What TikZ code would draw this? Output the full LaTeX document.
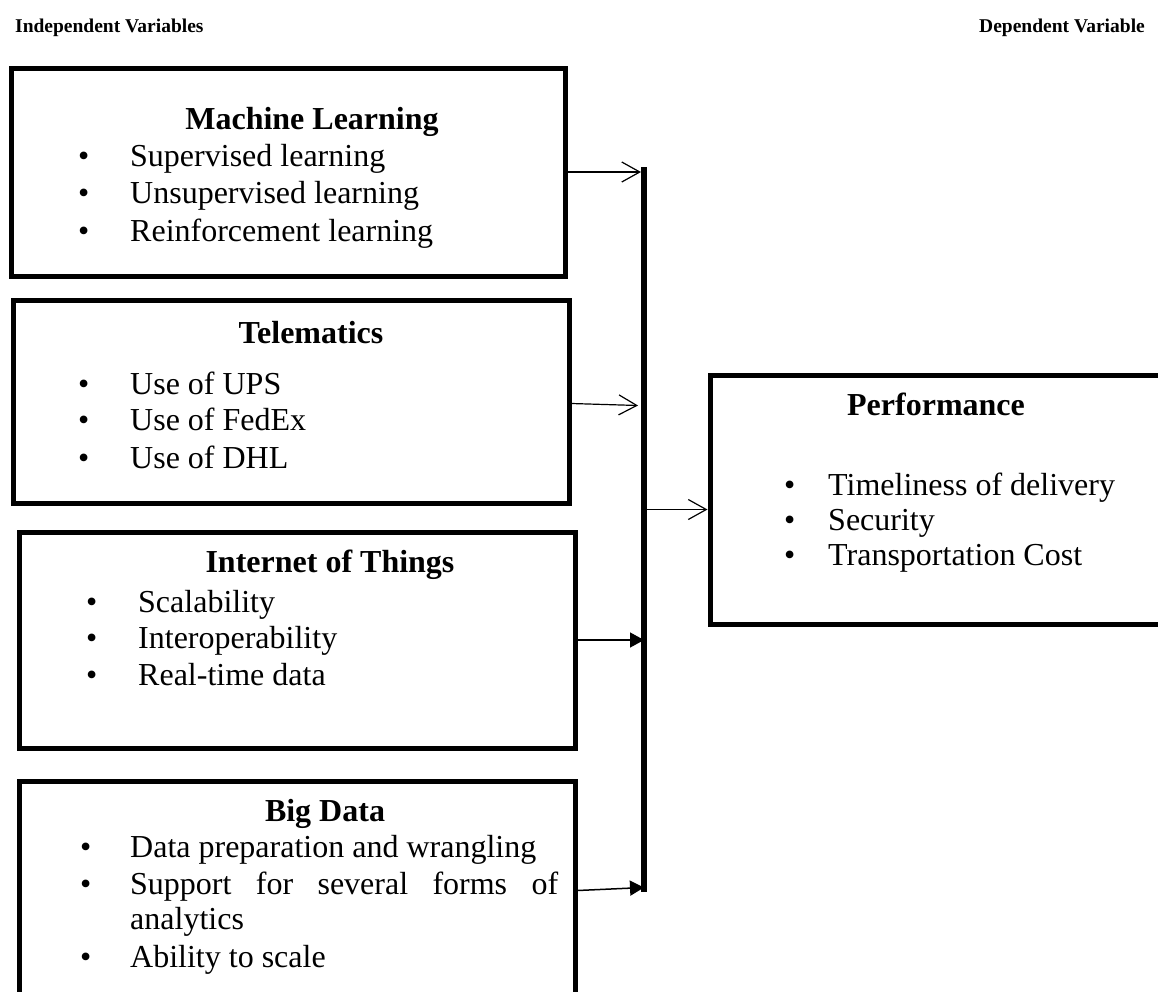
\documentclass[tikz,border=0pt]{standalone}
\usepackage{fontspec}
\setmainfont{Liberation Serif}
\usetikzlibrary{arrows.meta}
\begin{document}
\begin{tikzpicture}[x=1pt,y=-1pt,
  box/.style={draw, line width=5pt, inner sep=0pt},
  txt/.style={anchor=mid west, inner sep=0pt, font=\fontsize{32}{38}\selectfont},
  head/.style={anchor=mid, inner sep=0pt, font=\fontsize{32}{38}\selectfont\bfseries},
  bul/.style={anchor=mid west, inner sep=0pt, font=\fontsize{32}{38}\selectfont},
  toplabel/.style={inner sep=0pt, font=\fontsize{19.5}{24}\selectfont\bfseries},
  openarr/.style={line width=1.2pt, -{Straight Barb[length=18pt,width=20pt,line width=1.2pt]}},
  fillarr/.style={line width=1.5pt, -{Triangle[length=14pt,width=15pt]}},
]
\useasboundingbox (0,0) rectangle (1158,991);

% headers
\node[toplabel, anchor=mid west] (indep) at (15,30) {Independent Variables};
\node[toplabel, anchor=mid east] (dep) at (1145,30) {Dependent Variable};

% boxes
\node[box, minimum width=554pt, minimum height=208pt] (ml) at (288,172) {};
\node[box, minimum width=556pt, minimum height=203pt] (tel) at (291,401.5) {};
\node[box, minimum width=556pt, minimum height=216pt] (iot) at (297,640) {};
\node[box, minimum width=556pt, minimum height=219pt] (bd) at (297,890.5) {};
\node[box, minimum width=455pt, minimum height=249pt] (perf) at (937.5,499.5) {};

% vertical bar
\node[fill=black, minimum width=6pt, minimum height=725pt, inner sep=0pt, outer sep=0pt] (bar) at (644,529.5) {};

% Machine Learning
\node[head] (mlh) at (312,127) {Machine Learning};
\node[bul] (mlb1) at (78,164) {•};
\node[txt] (mlt1) at (130,164) {Supervised learning};
\node[bul] (mlb2) at (78,201) {•};
\node[txt] (mlt2) at (130,201) {Unsupervised learning};
\node[bul] (mlb3) at (78,239) {•};
\node[txt] (mlt3) at (130,239) {Reinforcement learning};

% Telematics
\node[head] (telh) at (311,341) {Telematics};
\node[bul] (telb1) at (78,392) {•};
\node[txt] (telt1) at (130,392) {Use of UPS};
\node[bul] (telb2) at (78,428) {•};
\node[txt] (telt2) at (130,428) {Use of FedEx};
\node[bul] (telb3) at (78,466) {•};
\node[txt] (telt3) at (130,466) {Use of DHL};

% Internet of Things
\node[head] (ioth) at (330,570) {Internet of Things};
\node[bul] (iotb1) at (86,610) {•};
\node[txt] (iott1) at (138,610) {Scalability};
\node[bul] (iotb2) at (86,646) {•};
\node[txt] (iott2) at (138,646) {Interoperability};
\node[bul] (iotb3) at (86,683) {•};
\node[txt] (iott3) at (138,683) {Real-time data};

% Big Data
\node[head] (bdh) at (325,819) {Big Data};
\node[bul] (bdb1) at (80,855) {•};
\node[txt] (bdt1) at (130,855) {Data preparation and wrangling};
\node[bul] (bdb2) at (80,892) {•};
\node[txt] (bdt2) at (130,892) {\hbox to 428pt{Support\hfil for\hfil several\hfil forms\hfil of}};
\node[txt] (bdt3) at (130,927) {analytics};
\node[bul] (bdb4) at (80,965) {•};
\node[txt] (bdt4) at (130,965) {Ability to scale};

% Performance
\node[head] (perfh) at (936,413) {Performance};
\node[bul] (pb1) at (784,493) {•};
\node[txt] (pt1) at (828,493) {Timeliness of delivery};
\node[bul] (pb2) at (784,528) {•};
\node[txt] (pt2) at (828,528) {Security};
\node[bul] (pb3) at (784,563) {•};
\node[txt] (pt3) at (828,563) {Transportation Cost};

% connectors
\draw[openarr] (ml.east) -- (bar.west |- ml.east);
\draw[openarr] ([yshift=-2pt]tel.east) -- ([xshift=-3pt,yshift=-4pt]bar.west |- tel.east);
\draw[fillarr] (iot.east) -- ([xshift=3pt]bar.west |- iot.east);
\draw[fillarr] (bd.east) -- ([xshift=3pt,yshift=3pt]bar.west |- bd.east);
\draw[openarr] ([yshift=-10pt]bar.east |- perf.west) -- ([yshift=-10pt]perf.west);
\end{tikzpicture}
\end{document}
